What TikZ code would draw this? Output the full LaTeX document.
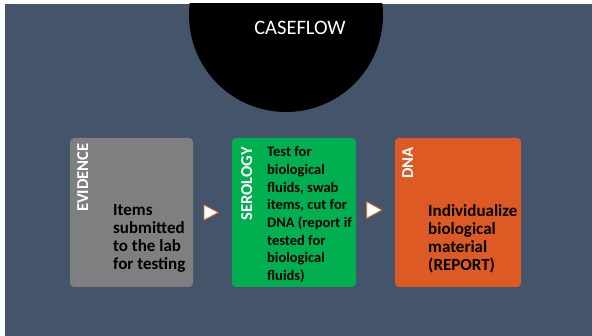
\documentclass[tikz,border=0pt]{standalone}
\usepackage{fontspec}
\setmainfont{Carlito}
\definecolor{slate}{HTML}{44546A}
\definecolor{evgray}{HTML}{7F7F7F}
\definecolor{serogreen}{HTML}{00B050}
\definecolor{dnaorange}{RGB}{222,90,36}
\definecolor{tipedge}{RGB}{226,112,40}
\begin{document}
\begin{tikzpicture}[x=1pt,y=-1pt,
  stage/.style={rounded corners=4pt, minimum height=149pt, inner sep=0pt, draw=none},
  stagelabel/.style={rotate=90, anchor=base east, inner sep=0pt, text=white,
    font=\fontsize{16.6}{18}\selectfont\bfseries},
  stagetext/.style={anchor=north west, inner sep=0pt, align=left, text=black},
  flowtip/.style={fill=white, draw=tipedge, line width=0.8pt, line join=miter}]
\useasboundingbox (0,0) rectangle (592,336);
% page and slide background
\fill[white] (0,0) rectangle (592,336);
\fill[slate] (5,4) rectangle (592,336);
% title disc
\begin{scope}
  \clip (5,4) rectangle (592,336);
  \fill[black] (286,15) circle (97pt);
\end{scope}
\node[text=white, font=\fontsize{20.5}{24}\selectfont, anchor=base, inner sep=0pt] (title) at (300,35) {CASEFLOW};

% stage boxes
\node[stage, fill=evgray, minimum width=123pt] (evidence) at (131.5,212.5) {};
\node[stage, fill=serogreen, minimum width=124pt] (serology) at (294,212.5) {};
\node[stage, fill=dnaorange, minimum width=126pt] (dna) at (458,212.5) {};

% vertical stage labels
\node[stagelabel] (evlabel) at (88,143) {EVIDENCE};
\node[stagelabel] (serolabel) at (252,147) {SEROLOGY};
\node[stagelabel] (dnalabel) at (413,147) {DNA};

% stage descriptions
\node[stagetext, font=\fontsize{17}{18}\selectfont\bfseries] (evtext) at (113,204.5)
  {Items\\submitted\\to the lab\\for testing};
\node[stagetext, font=\fontsize{14.5}{17.7}\selectfont\bfseries] (serotext) at (267,146.5)
  {Test for\\biological\\fluids, swab\\items, cut for\\DNA (report if\\tested for\\biological\\fluids)};
\node[stagetext, font=\fontsize{17}{18}\selectfont\bfseries] (dnatext) at (428,204.5)
  {Individualize\\biological\\material\\(REPORT)};

% flow markers between stages
\draw[flowtip] (204,205) -- (218.3,212.5) -- (204,220) -- cycle;
\draw[flowtip] (366.7,201.7) -- (381.7,210) -- (366.7,218.3) -- cycle;
\end{tikzpicture}
\end{document}
